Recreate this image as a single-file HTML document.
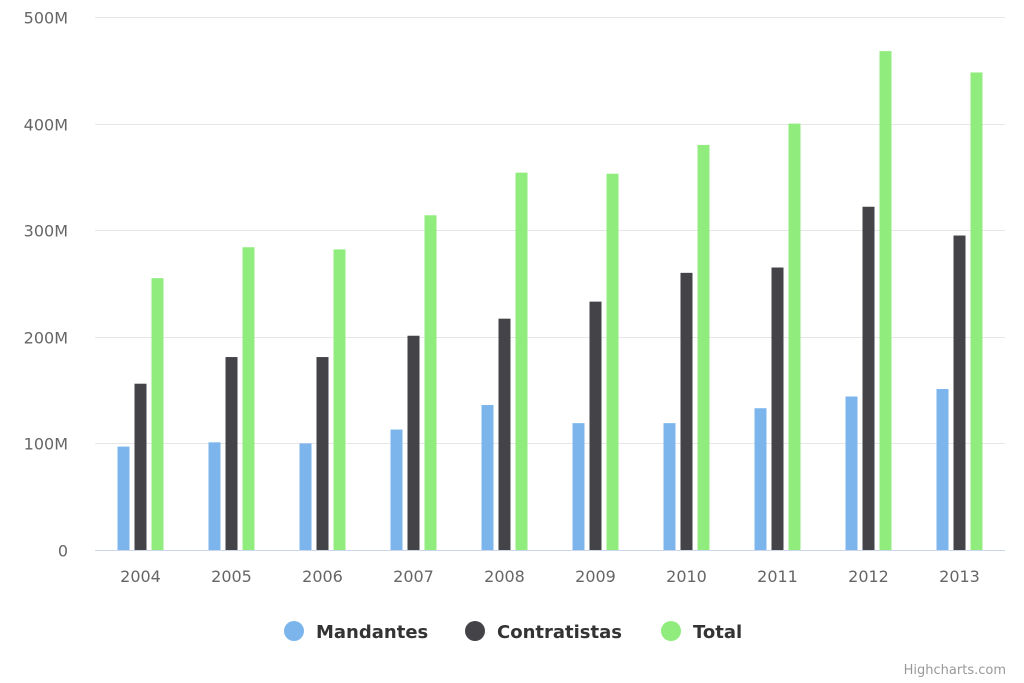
<!DOCTYPE html>
<html><head><meta charset="utf-8"><style>
body{margin:0;background:#fff;font-family:"DejaVu Sans","Liberation Sans",sans-serif}
svg{display:block;font-family:"DejaVu Sans","Liberation Sans",sans-serif}
</style></head><body>
<svg id="chart" width="1024" height="683" xmlns="http://www.w3.org/2000/svg">
<g id="grid"></g>
<g id="yaxis"></g>
<g id="xaxis"></g>
<g id="bars"></g>
<g id="legend"></g>
<text x="1006" y="674" text-anchor="end" font-size="13" fill="#999">Highcharts.com</text>
</svg>
<script>
const categories=["2004","2005","2006","2007","2008","2009","2010","2011","2012","2013"];
const mandantes=[97,101,100,113,136,119,119,133,144,151];
const contratistas=[156,181,181,201,217,233,260,265,322,295];
const total=[255,284,282,314,354,353,380,400,468,448];
const yTicks=[0,100,200,300,400,500];
const yTickLabels=["0","100M","200M","300M","400M","500M"];
const seriesNames=["Mandantes","Contratistas","Total"];
const seriesColors=["#7cb5ec","#434348","#90ed7d"];
const NS="http://www.w3.org/2000/svg";
const x0=95,x1=1005,y0=550,yTop=17;
const yScale=v=>y0-(v/500)*(y0-yTop);
const band=(x1-x0)/categories.length;
const xCenter=i=>x0+band*(i+0.5);
function mk(tag,attrs,parent,txt){const e=document.createElementNS(NS,tag);for(const k in attrs)e.setAttribute(k,attrs[k]);if(txt!==undefined)e.textContent=txt;parent.appendChild(e);return e;}
const grid=document.getElementById('grid'),ya=document.getElementById('yaxis'),xa=document.getElementById('xaxis'),bars=document.getElementById('bars'),lg=document.getElementById('legend');
yTicks.forEach((t,i)=>{
  const y=Math.round(yScale(t))+0.5;
  if(t>0){const l=mk('line',{x1:x0,x2:x1,y1:y,y2:y,stroke:'#e6e6e6','stroke-width':1},grid);
  
  }
  const tx=mk('text',{x:68,y:y+6,'text-anchor':'end','font-size':16,fill:'#666'},ya,yTickLabels[i]);
  
  
});
const base=mk('line',{x1:x0,x2:x1,y1:y0+0.5,y2:y0+0.5,stroke:'#ccd6eb','stroke-width':1},xa);


categories.forEach((c,i)=>{
  const tx=mk('text',{x:xCenter(i),y:582,'text-anchor':'middle','font-size':16,fill:'#666'},xa,c);
  
  
});
const series=[mandantes,contratistas,total];
const bw=12,gap=5;
series.forEach((s,si)=>{
  s.forEach((v,i)=>{
    const cx=xCenter(i)+(si-1)*(bw+gap);
    const y=yScale(v);
    const r=mk('rect',{x:cx-bw/2,y:y,width:bw,height:y0-y,fill:seriesColors[si]},bars);
    
    
  });
});
const lx=[294,475,671];
seriesNames.forEach((n,i)=>{
  const g=mk('g',{},lg);
  
  
  mk('circle',{cx:lx[i],cy:631,r:10,fill:seriesColors[i]},g);
  mk('text',{x:lx[i]+22,y:638,'font-size':18,'font-weight':'bold',fill:'#333'},g,n);
});
</script>
</body></html>
